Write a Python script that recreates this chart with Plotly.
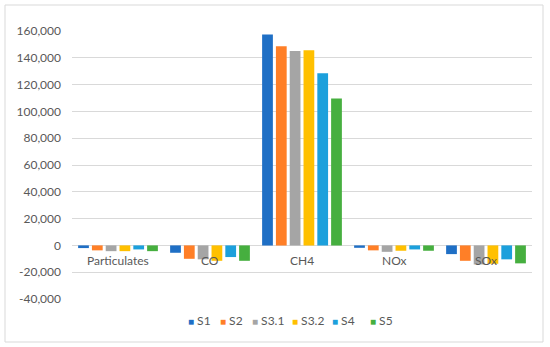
import plotly.graph_objects as go

categories = ["Particulates", "CO", "CH4", "NOx", "SOx"]
series_names = ["S1", "S2", "S3.1", "S3.2", "S4", "S5"]
S1 = [-2000, -5500, 157400, -1800, -6500]
S2 = [-3700, -10000, 148700, -3700, -11500]
S3_1 = [-4300, -10400, 145000, -4800, -14200]
S3_2 = [-4300, -11500, 145700, -4000, -13700]
S4 = [-3000, -8700, 128500, -3000, -10400]
S5 = [-4300, -11500, 109700, -4000, -13400]
series_values = [S1, S2, S3_1, S3_2, S4, S5]
colors = ["#1F6FC5", "#FF7F27", "#A5A5A5", "#FFC000", "#1CA0DC", "#46AF3F"]
tick_vals = [-40000, -20000, 0, 20000, 40000, 60000, 80000, 100000, 120000, 140000, 160000]
tick_text = ["-40,000", "-20,000", "0", "20,000", "40,000", "60,000", "80,000",
             "100,000", "120,000", "140,000", "160,000"]

FONT = "Lato"
GRAY = "#595959"
L, R, T, B = 72, 18, 31, 48
W, H = 550, 347
PW, PH = W - L - R, H - T - B

def px_x(p):
    return (p - L) / PW

def px_y(p):
    return (H - B - p) / PH

# left edge of each legend swatch (px)
legend_px = [188, 220, 252, 292, 332, 370]

fig = go.Figure()
for i, (name, vals, col) in enumerate(zip(series_names, series_values, colors)):
    lg = "legend" if i == 0 else f"legend{i+1}"
    fig.add_trace(go.Bar(x=categories, y=vals, name=name, legendgroup=name,
                         showlegend=False,
                         marker=dict(color=col, line=dict(width=0))))
    fig.add_trace(go.Scatter(
        x=[None], y=[None], mode="markers", legendgroup=name,
        name=f"<span style='color:{col};font-size:10px'>■</span> {name}",
        legend=lg, showlegend=True,
        marker=dict(symbol="square", size=6, color="rgba(0,0,0,0)")))

for c in categories:
    fig.add_annotation(x=c, y=0, text=c, showarrow=False, yshift=-15,
                       font=dict(family=FONT, size=12, color=GRAY))

legends = {}
for i in range(6):
    key = "legend" if i == 0 else f"legend{i+1}"
    legends[key] = dict(orientation="h", x=px_x(legend_px[i] - 40), xanchor="left",
                        y=px_y(320), yanchor="middle", itemwidth=30,
                        font=dict(family=FONT, size=12, color=GRAY),
                        bgcolor="rgba(0,0,0,0)", borderwidth=0)

fig.update_layout(
    width=W, height=H,
    margin=dict(l=L, r=R, t=T, b=B),
    paper_bgcolor="white", plot_bgcolor="white",
    barmode="group", bargap=0.1, bargroupgap=0.22,
    font=dict(family=FONT, size=12, color=GRAY),
    showlegend=True,
    xaxis=dict(showticklabels=False, showgrid=False, showline=False, ticks=""),
    yaxis=dict(range=[-40000, 160000], tickvals=tick_vals, ticktext=tick_text,
               showgrid=True, gridcolor="#D9D9D9", gridwidth=1,
               zeroline=True, zerolinecolor="#D9D9D9", zerolinewidth=1,
               showline=False, ticks="", ticklabelstandoff=10,
               tickfont=dict(family=FONT, size=12, color=GRAY)),
    shapes=[dict(type="rect", xref="paper", yref="paper",
                 x0=px_x(5), x1=px_x(543), y0=px_y(342), y1=px_y(5),
                 line=dict(color="#D9D9D9", width=1), layer="below")],
    **legends,
)

fig.write_html("out.html", config={"displayModeBar": False},
               post_script="document.body.style.margin='0';")
